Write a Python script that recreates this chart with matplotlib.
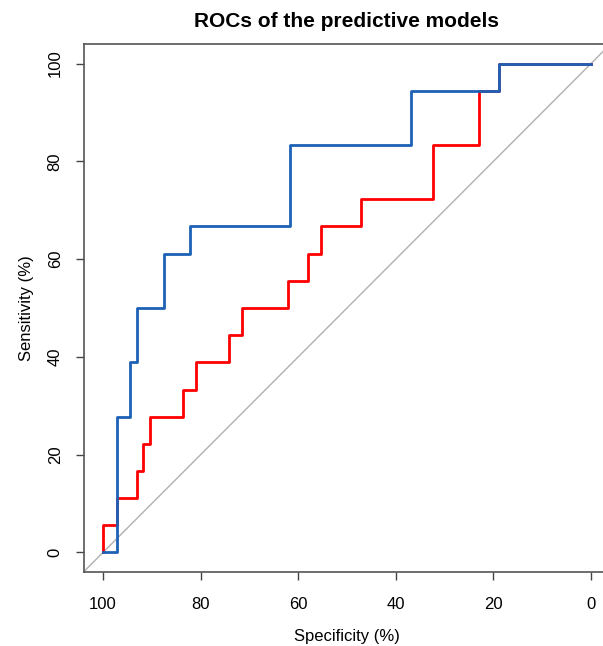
import numpy as np
import matplotlib.pyplot as plt

plt.rcParams['font.family'] = ['Liberation Sans', 'DejaVu Sans']

# step points of the two ROC curves (specificity %, sensitivity %)
spec_blue = [100, 97.2, 97.2, 94.5, 94.5, 93.1, 93.1, 87.6, 87.6, 82.1, 82.1,
             61.6, 61.6, 36.8, 36.8, 18.8, 18.8, 0]
sens_blue = [0, 0, 27.8, 27.8, 38.9, 38.9, 50.0, 50.0, 61.1, 61.1, 66.7,
             66.7, 83.3, 83.3, 94.4, 94.4, 100, 100]

spec_red = [100, 100, 97.2, 97.2, 93.1, 93.1, 91.8, 91.8, 90.4, 90.4, 83.7, 83.7,
            81.0, 81.0, 74.2, 74.2, 71.5, 71.5, 62.1, 62.1, 58.0, 58.0, 55.3, 55.3,
            47.2, 47.2, 32.3, 32.3, 22.9, 22.9, 18.8, 18.8, 0]
sens_red = [0, 5.6, 5.6, 11.1, 11.1, 16.7, 16.7, 22.2, 22.2, 27.8, 27.8, 33.3,
            33.3, 38.9, 38.9, 44.4, 44.4, 50.0, 50.0, 55.6, 55.6, 61.1, 61.1, 66.7,
            66.7, 72.2, 72.2, 83.3, 83.3, 94.4, 94.4, 100, 100]

ticks = [100, 80, 60, 40, 20, 0]

fig = plt.figure(figsize=(6.03, 6.46), dpi=100)
ax = fig.add_axes([0.1385, 0.1146, 0.874, 0.8173])

# chance line
ax.axline((100, 0), (0, 100), color='#b0b0b0', lw=1.0, zorder=1)

ax.plot(spec_red, sens_red, color='#ff0000', lw=2.0, zorder=2)
ax.plot(spec_blue, sens_blue, color='#1c61b6', lw=2.0, zorder=3)

ax.set_xlim(104, -4)
ax.set_ylim(-4, 104)
ax.set_xticks(ticks)
ax.set_yticks(ticks)
ax.tick_params(direction='out', length=6, width=1, color='#444444',
               labelsize=12)
ax.tick_params(axis='x', pad=12)
ax.tick_params(axis='y', pad=9)
for lab in ax.get_yticklabels():
    lab.set_rotation(90)
    lab.set_va('center')
for s in ax.spines.values():
    s.set_color('#555555')
    s.set_linewidth(1.2)

ax.set_xlabel('Specificity (%)', fontsize=12, labelpad=12)
ax.set_ylabel('Sensitivity (%)', fontsize=12, labelpad=10)
fig.text(0.575, 0.966, 'ROCs of the predictive models', ha='center', va='center',
         fontsize=15, fontweight='bold')

fig.savefig('out.png', dpi=100)
